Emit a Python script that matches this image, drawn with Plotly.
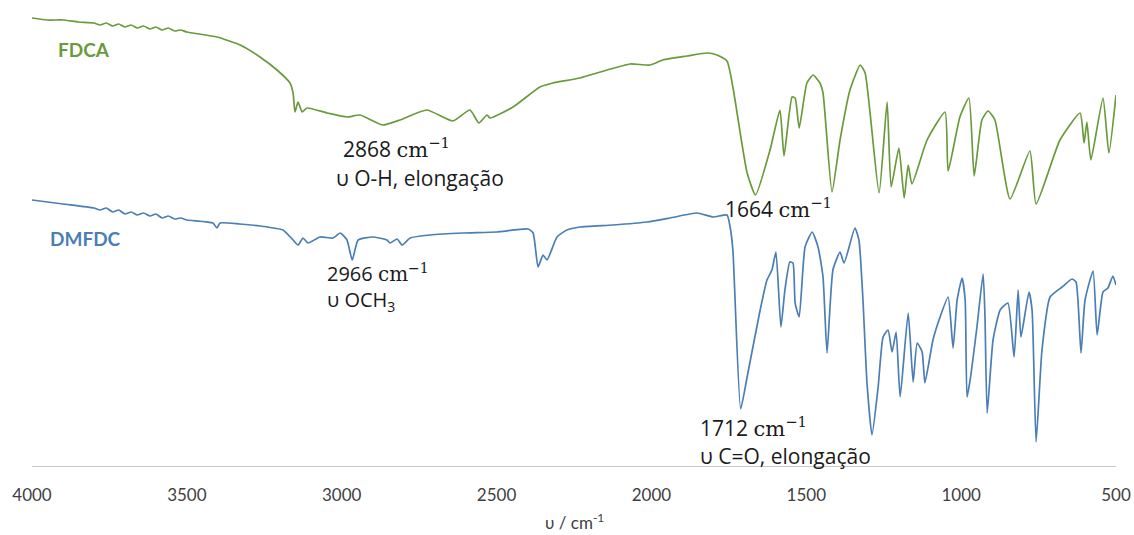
import plotly.graph_objects as go

# FT-IR spectra (wavenumber in cm-1, relative transmittance in arbitrary offset units)
fdca_wn = [4000, 3950, 3900, 3850, 3800, 3780, 3760, 3740, 3720, 3700, 3680, 3660, 3640, 3619,
           3600, 3580, 3560, 3540, 3520, 3500, 3403, 3328, 3264, 3209, 3167, 3157,
           3151, 3141, 3128, 3112, 3047, 2983, 2941, 2867, 2812, 2725, 2641, 2586, 2557, 2531, 2521,
           2447, 2360, 2318, 2231, 2143, 2069, 2005, 1963, 1885, 1820, 1788, 1756, 1737, 1691, 1664,
           1617, 1585, 1572, 1546, 1536, 1523, 1498, 1478, 1456, 1446, 1417, 1391, 1359, 1326, 1310,
           1265, 1239, 1226, 1201, 1184, 1171, 1159, 1110, 1052, 1042, 1004, 975, 958, 933, 913,
           891, 842, 778, 758, 681, 616, 603, 594, 581, 542, 523, 500]
fdca_t = [448, 446, 446, 444, 443, 441, 443, 440, 442, 439, 441, 438, 440, 437,
          439, 436, 438, 435, 436, 434, 429, 421, 409, 396, 383, 373,
          354, 364, 354, 358, 353, 349, 351, 341, 346, 356, 345, 356, 343, 351, 348,
          359, 379, 383, 388, 396, 402, 401, 406, 410, 413, 411, 405, 379, 293, 271,
          316, 356, 310, 369, 368, 338, 383, 391, 383, 373, 274, 326, 376, 401, 393,
          273, 364, 279, 318, 268, 301, 282, 326, 354, 295, 349, 368, 290, 346, 355,
          346, 267, 315, 262, 326, 353, 323, 344, 306, 368, 313, 371]

dmfdc_wn = [4000, 3900, 3800, 3780, 3760, 3740, 3720, 3700, 3680, 3660, 3640, 3619, 3600, 3580,
            3560, 3540, 3520, 3500, 3416, 3403, 3393, 3330, 3264, 3190, 3157, 3141, 3125, 3109,
            3070, 3028, 3005, 2983, 2966, 2947, 2899, 2854, 2844, 2821, 2805, 2779, 2715, 2608, 2499,
            2398, 2382, 2366, 2350, 2337, 2305, 2273, 2231, 2124, 2014, 1940, 1853, 1801, 1756, 1746,
            1737, 1712, 1691, 1649, 1627, 1611, 1598, 1582, 1569, 1553, 1543, 1536, 1523, 1504, 1481,
            1462, 1446, 1433, 1414, 1391, 1378, 1343, 1330, 1317, 1304, 1288, 1268, 1252, 1236, 1223,
            1210, 1197, 1171, 1155, 1142, 1126, 1117, 1091, 1068, 1042, 1026, 1013, 997, 987, 981,
            971, 949, 929, 923, 916, 897, 874, 849, 829, 816, 807, 781, 771, 758, 739,
            713, 674, 642, 629, 613, 600, 574, 561, 542, 526, 510, 500]
dmfdc_t = [266, 262, 258, 256, 258, 254, 256, 252, 254, 251, 253, 250, 252, 248,
           250, 247, 248, 246, 243, 238, 243, 242, 240, 236, 226, 221, 228, 223,
           229, 228, 233, 226, 206, 226, 229, 226, 223, 227, 221, 228, 231, 233, 234,
           237, 233, 199, 211, 206, 229, 236, 239, 241, 244, 248, 253, 249, 251, 239,
           216, 57, 89, 156, 186, 196, 214, 139, 176, 204, 203, 163, 149, 219, 234,
           219, 189, 113, 196, 214, 203, 238, 226, 166, 83, 31, 79, 129, 136, 114,
           134, 69, 153, 84, 123, 114, 83, 126, 149, 169, 118, 166, 188, 166, 69,
           86, 139, 192, 149, 53, 126, 156, 163, 109, 176, 129, 174, 156, 24, 116,
           169, 179, 187, 184, 113, 166, 195, 131, 174, 178, 190, 181]

x_ticks = [4000, 3500, 3000, 2500, 2000, 1500, 1000, 500]

GREEN = "#6A9A3C"
BLUE = "#4A7EB5"
TXT = "#1a1a1a"
SERIF = "DejaVu Serif"
SANS = "Open Sans, Noto Sans, sans-serif"

fig = go.Figure()
fig.add_trace(go.Scatter(x=fdca_wn, y=fdca_t, mode="lines", name="FDCA",
                         line=dict(color=GREEN, width=1.7, shape="spline", smoothing=0.5)))
fig.add_trace(go.Scatter(x=dmfdc_wn, y=dmfdc_t, mode="lines", name="DMFDC",
                         line=dict(color=BLUE, width=1.7, shape="spline", smoothing=0.5)))

def cm(num):
    return f"{num} <span style='font-family:{SERIF}'>cm<sup>−1</sup></span>"

ann = [
    dict(x=3832, y=417, text="<b>FDCA</b>", color=GREEN, xanchor="center", size=19, fam="Lato, sans-serif"),
    dict(x=3826, y=228, text="<b>DMFDC</b>", color=BLUE, xanchor="center", size=19, fam="Lato, sans-serif"),
    dict(x=3001, y=318, text=cm(2868), color=TXT, xanchor="left", size=21, fam=SANS),
    dict(x=3024, y=288, text="υ O-H, elongação", color=TXT, xanchor="left", size=21, fam=SANS),
    dict(x=1769, y=258, text=cm(1664), color=TXT, xanchor="left", size=21, fam=SANS),
    dict(x=3054, y=178, text=cm(2966) + "<br>υ OCH<sub>3</sub>", color=TXT, xanchor="left", size=20, fam=SANS),
    dict(x=1850, y=39, text=cm(1712), color=TXT, xanchor="left", size=21, fam=SANS),
    dict(x=1850, y=10, text="υ C=O, elongação", color=TXT, xanchor="left", size=21, fam=SANS),
]
for a in ann:
    fig.add_annotation(x=a["x"], y=a["y"], xref="x", yref="y", text=a["text"],
                       showarrow=False, xanchor=a["xanchor"], yanchor="middle", align="left",
                       font=dict(family=a["fam"], size=a["size"], color=a["color"]))

fig.add_annotation(x=0.5, y=-0.12, xref="paper", yref="paper",
                   text="υ / cm<sup>-1</sup>", showarrow=False, yanchor="middle",
                   font=dict(family="Lato, Noto Sans, sans-serif", size=17, color="#404040"))

fig.update_layout(
    width=1134, height=535,
    margin=dict(l=32, r=18, t=0, b=69),
    paper_bgcolor="white", plot_bgcolor="white",
    showlegend=False,
    xaxis=dict(range=[4000, 500], tickvals=x_ticks, ticktext=[str(v) for v in x_ticks],
               showgrid=False, zeroline=False, showline=True, linecolor="#C8C8C8", linewidth=1,
               ticks="", ticklabelstandoff=14,
               tickfont=dict(family="Lato, Noto Sans, sans-serif", size=17, color="#404040")),
    yaxis=dict(range=[0, 466], visible=False),
)

fig.write_html("out.html")
